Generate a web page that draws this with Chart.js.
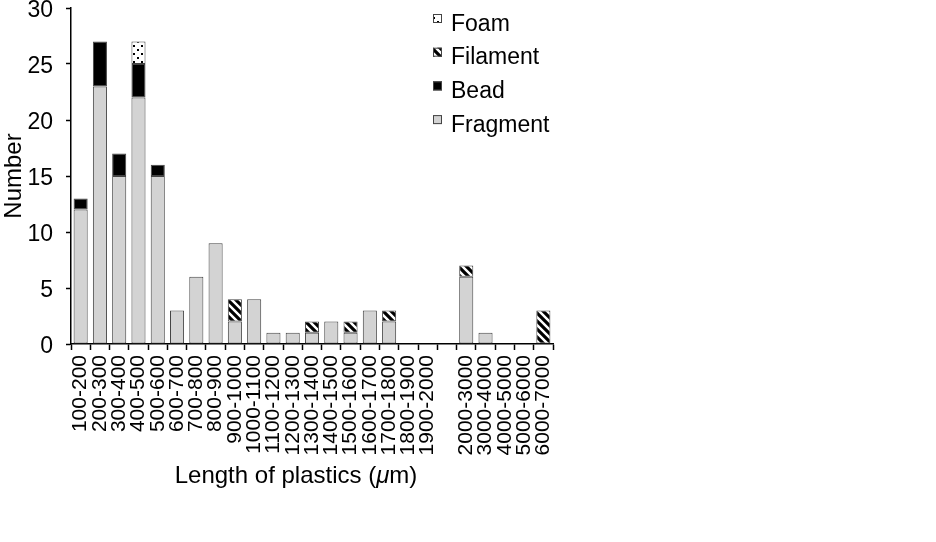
<!DOCTYPE html>
<html>
<head>
<meta charset="utf-8">
<script src="https://cdn.jsdelivr.net/npm/chart.js@4.4.1/dist/chart.umd.min.js"></script>
<style>
  html, body { margin: 0; padding: 0; background: #fff; }
  #wrap { width: 936px; height: 542px; }
</style>
</head>
<body>
<div id="wrap"><canvas id="plasticChart" width="936" height="542"></canvas></div>
<script>
// size classes (µm); blank entry is the gap before the 1000-step classes
const categories = ['100-200', '200-300', '300-400', '400-500', '500-600', '600-700', '700-800',
    '800-900', '900-1000', '1000-1100', '1100-1200', '1200-1300', '1300-1400', '1400-1500',
    '1500-1600', '1600-1700', '1700-1800', '1800-1900', '1900-2000', '',
    '2000-3000', '3000-4000', '4000-5000', '5000-6000', '6000-7000'];

const fragment = [12, 23, 15, 22, 15, 3, 6, 9, 2, 4, 1, 1, 1, 2, 1, 3, 2, 0, 0, 0, 6, 1, 0, 0, 0];
const bead     = [1, 4, 2, 3, 1, 0, 0, 0, 0, 0, 0, 0, 0, 0, 0, 0, 0, 0, 0, 0, 0, 0, 0, 0, 0];
const filament = [0, 0, 0, 0, 0, 0, 0, 0, 2, 0, 0, 0, 1, 0, 1, 0, 1, 0, 0, 0, 1, 0, 0, 0, 3];
const foam     = [0, 0, 0, 2, 0, 0, 0, 0, 0, 0, 0, 0, 0, 0, 0, 0, 0, 0, 0, 0, 0, 0, 0, 0, 0];

const yTicks = [0, 5, 10, 15, 20, 25, 30];

const FONT = '"Liberation Sans", Arial, Helvetica, sans-serif';

function stripePattern() {
    const c = document.createElement('canvas');
    c.width = 8; c.height = 8;
    const g = c.getContext('2d');
    g.fillStyle = '#fff';
    g.fillRect(0, 0, 8, 8);
    g.strokeStyle = '#000';
    g.lineWidth = 3.2;
    g.beginPath();
    for (let k = -8; k <= 8; k += 8) {
        g.moveTo(k - 2, -2);
        g.lineTo(k + 10, 10);
    }
    g.stroke();
    return g.createPattern(c, 'repeat');
}

function dotPattern() {
    const c = document.createElement('canvas');
    c.width = 8; c.height = 8;
    const g = c.getContext('2d');
    g.fillStyle = '#fff';
    g.fillRect(0, 0, 8, 8);
    g.fillStyle = '#000';
    g.fillRect(1, 1, 2, 2);
    g.fillRect(5, 5, 2, 2);
    return g.createPattern(c, 'repeat');
}

const stripes = stripePattern();
const dots = dotPattern();

const nz = arr => arr.map(v => v || null);

const common = {
    borderColor: '#444',
    borderWidth: 1,
    borderSkipped: false,
    barPercentage: 0.73,
    categoryPercentage: 1.0
};

// legend + x title drawn by hand so they sit where the original has them
const extras = {
    id: 'extras',
    afterDraw(chart) {
        const ctx = chart.ctx;
        ctx.save();
        ctx.fillStyle = '#000';
        ctx.font = '23px ' + FONT;
        ctx.textBaseline = 'alphabetic';
        const items = chart.data.datasets.slice().reverse();
        items.forEach((ds, i) => {
            const top = 14 + i * 33.7;
            ctx.fillStyle = ds.backgroundColor;
            ctx.fillRect(433, top, 9, 9);
            ctx.strokeStyle = '#444';
            ctx.lineWidth = 1;
            ctx.strokeRect(433.5, top + 0.5, 8, 8);
            ctx.fillStyle = '#000';
            ctx.textAlign = 'left';
            ctx.fillText(ds.label, 451, top + 16.5);
        });

        // x title with italic mu, centred as one line
        const parts = [
            { t: 'Length of plastics (', f: '24px ' + FONT },
            { t: '\u03BC', f: 'italic 24px ' + FONT },
            { t: 'm)', f: '24px ' + FONT }
        ];
        let total = 0;
        parts.forEach(p => { ctx.font = p.f; p.w = ctx.measureText(p.t).width; total += p.w; });
        let x = 296 - total / 2;
        ctx.textAlign = 'left';
        parts.forEach(p => { ctx.font = p.f; ctx.fillText(p.t, x, 483); x += p.w; });
        ctx.restore();
    }
};

document.addEventListener('DOMContentLoaded', () => {
    const ctx = document.getElementById('plasticChart').getContext('2d');

    new Chart(ctx, {
        type: 'bar',
        data: {
            labels: categories,
            datasets: [
                Object.assign({ label: 'Fragment', data: nz(fragment), backgroundColor: '#d3d3d3' }, common),
                Object.assign({ label: 'Bead', data: nz(bead), backgroundColor: '#000' }, common),
                Object.assign({ label: 'Filament', data: nz(filament), backgroundColor: stripes }, common),
                Object.assign({ label: 'Foam', data: nz(foam), backgroundColor: dots }, common)
            ]
        },
        options: {
            responsive: false,
            animation: false,
            layout: {
                padding: { top: 8, right: 383, bottom: 0, left: 0 }
            },
            plugins: {
                legend: { display: false },
                tooltip: { enabled: false }
            },
            scales: {
                x: {
                    stacked: true,
                    offset: true,
                    grid: {
                        display: true,
                        offset: true,
                        drawOnChartArea: false,
                        drawTicks: true,
                        tickLength: 6,
                        tickWidth: 1.5,
                        color: '#000'
                    },
                    border: { display: true, color: '#000', width: 1.5 },
                    ticks: {
                        autoSkip: false,
                        minRotation: 90,
                        maxRotation: 90,
                        padding: 5,
                        color: '#000',
                        font: { family: FONT, size: 21 }
                    },
                    afterFit(scale) {
                        scale.height = 198;
                        scale.paddingLeft = 0;
                        scale.paddingRight = 0;
                    }
                },
                y: {
                    stacked: true,
                    min: 0,
                    max: 30,
                    afterBuildTicks(scale) {
                        scale.ticks = yTicks.map(v => ({ value: v }));
                    },
                    grid: {
                        display: true,
                        drawOnChartArea: false,
                        drawTicks: true,
                        tickLength: 5,
                        tickWidth: 1.5,
                        color: '#000'
                    },
                    border: { display: true, color: '#000', width: 1.5 },
                    ticks: {
                        padding: 13,
                        labelOffset: 3,
                        color: '#000',
                        font: { family: FONT, size: 23 }
                    },
                    title: {
                        display: true,
                        text: 'Number',
                        color: '#000',
                        padding: { top: 0, bottom: 0 },
                        font: { family: FONT, size: 24 }
                    },
                    afterFit(scale) {
                        scale.width = 71;
                        scale.paddingTop = 0;
                        scale.paddingBottom = 0;
                    }
                }
            }
        },
        plugins: [extras]
    });
});
</script>
</body>
</html>
